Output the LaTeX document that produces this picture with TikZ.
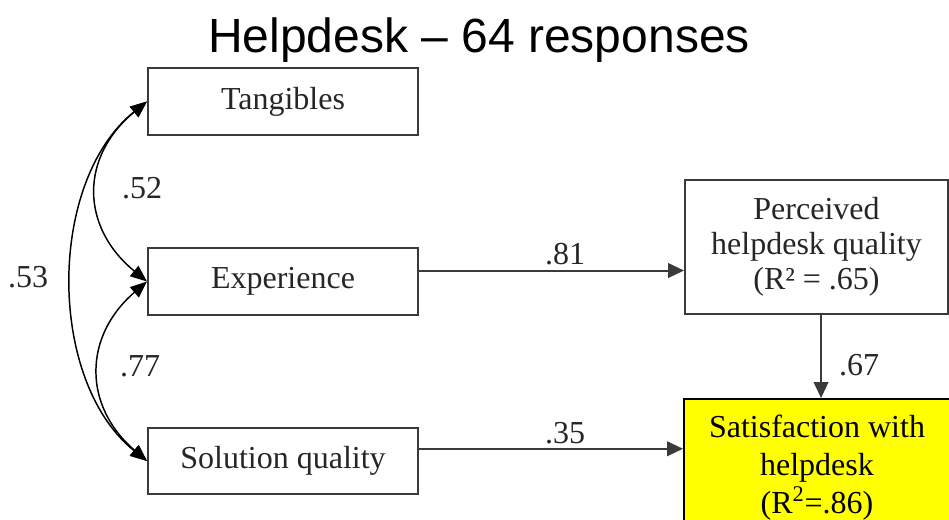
\documentclass[tikz,border=0pt]{standalone}
\usepackage{fontspec}
\setmainfont{Liberation Serif}
\newfontfamily\titlefont{Liberation Sans}
\usetikzlibrary{arrows.meta,calc}
\definecolor{linegray}{HTML}{3A3A3A}
\definecolor{txtgray}{HTML}{262626}
\definecolor{satyellow}{HTML}{FFFF00}
\begin{document}
\begin{tikzpicture}[x=0.75pt,y=-0.75pt,
  box/.style={draw=linegray,line width=1.5pt,rectangle,inner sep=0pt,text=txtgray,
    font=\fontsize{24}{26.25}\selectfont,align=center},
  pathar/.style={draw=linegray,line width=1.5pt,-{Triangle[length=12pt,width=11pt]}},
  cov/.style={draw=black,line width=1.1pt,{Triangle[length=12.5pt,width=10pt]}-{Triangle[length=12.5pt,width=10pt]}},
  lab/.style={text=txtgray,font=\fontsize{24}{26}\selectfont,anchor=base,inner sep=0pt}]
\useasboundingbox (0,0) rectangle (949,519);

\node[font=\titlefont\fontsize{36}{40}\selectfont,anchor=base,inner sep=0pt] (title) at (479,52) {Helpdesk – 64 responses};

\node[box,minimum width=202.5pt,minimum height=50pt] (tang) at (283,101.5) {Tangibles};
\node[box,minimum width=202.5pt,minimum height=50pt] (exp) at (283,281.5) {Experience};
\node[box,minimum width=202.5pt,minimum height=49.5pt] (sol) at (283,461) {Solution quality};
\node[box,minimum width=197.25pt,minimum height=100.5pt] (perc) at (816.5,247) {Perceived\\helpdesk quality\\(R² = .65)};
\node[box,draw=black,fill=satyellow,text=black,minimum width=199.5pt,minimum height=103.5pt,
  font=\fontsize{24}{28.5}\selectfont] (sat) at (817,468) {Satisfaction with\\helpdesk\\(R\textsuperscript{2}=.86)};

\draw[cov] (tang.west) .. controls +(-67,55) and +(-67,-55) .. (exp.west);
\draw[cov] (exp.west) .. controls +(-64,55) and +(-64,-55) .. (sol.west);
\draw[cov] (tang.west) .. controls +(-100,80) and +(-100,-80) .. (sol.west);

\coordinate (e81) at ($(exp.north east)!0.34!(exp.south east)$);
\draw[pathar] (e81) -- (e81 -| perc.west);
\coordinate (s35) at ($(sol.north east)!0.32!(sol.south east)$);
\draw[pathar] (s35) -- (s35 -| sat.west);
\coordinate (p67) at ([xshift=3.4pt]perc.south);
\draw[pathar] (p67) -- (p67 |- sat.north);

\node[lab] (l52) at (142,198) {.52};
\node[lab] (l53) at (28,287) {.53};
\node[lab] (l77) at (140,376) {.77};
\node[lab] (l81) at (565,264) {.81};
\node[lab] (l35) at (565,443) {.35};
\node[lab] (l67) at (859,375) {.67};
\end{tikzpicture}
\end{document}
